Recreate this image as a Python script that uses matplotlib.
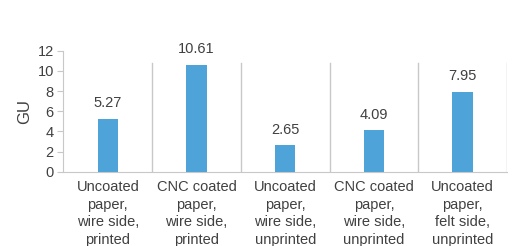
import matplotlib.pyplot as plt
import numpy as np

categories = ['Uncoated\npaper,\nwire side,\nprinted',
              'CNC coated\npaper,\nwire side,\nprinted',
              'Uncoated\npaper,\nwire side,\nunprinted',
              'CNC coated\npaper,\nwire side,\nunprinted',
              'Uncoated\npaper,\nfelt side,\nunprinted']
values = [5.27, 10.61, 2.65, 4.09, 7.95]
yticks = [0, 2, 4, 6, 8, 10, 12]

txt = '#404040'
grid_c = '#c8c8c8'
plt.rcParams['font.family'] = ['Liberation Sans', 'DejaVu Sans']

fig = plt.figure(figsize=(5.17, 2.46), dpi=100)
ax = fig.add_axes([63.5 / 517, 1 - 171.7 / 246, (507 - 63.5) / 517, 121 / 246])

x = np.arange(len(values))
ax.bar(x, values, width=0.23, color='#4EA3D8', zorder=3)
for xi, v in zip(x, values):
    ax.annotate(f'{v:.2f}', (xi, v), xytext=(0, 6), textcoords='offset points',
                ha='center', va='bottom', fontsize=10.5, color=txt)

# category separators
for s in np.arange(0.5, len(values) - 0.5, 1):
    ax.plot([s, s], [0, 10.75], color=grid_c, lw=1, zorder=1)
ax.plot([len(values) - 0.5] * 2, [0, 10.75], color=grid_c, lw=1, zorder=1)

ax.set_xlim(-0.5, len(values) - 0.5)
ax.set_ylim(0, 12)
ax.set_yticks(yticks)
ax.set_xticks(x)
ax.set_xticklabels(categories, fontsize=10.5, color=txt, linespacing=1.33)
ax.tick_params(axis='x', length=0, pad=6)
ax.tick_params(axis='y', length=4, color=grid_c, labelsize=10.5, labelcolor=txt, pad=3)
ax.set_ylabel('GU', fontsize=12, color=txt, labelpad=4)

for side in ['top', 'right']:
    ax.spines[side].set_visible(False)
ax.spines['left'].set_color(grid_c)
ax.spines['bottom'].set_color(grid_c)

fig.savefig('out.png', dpi=100)
